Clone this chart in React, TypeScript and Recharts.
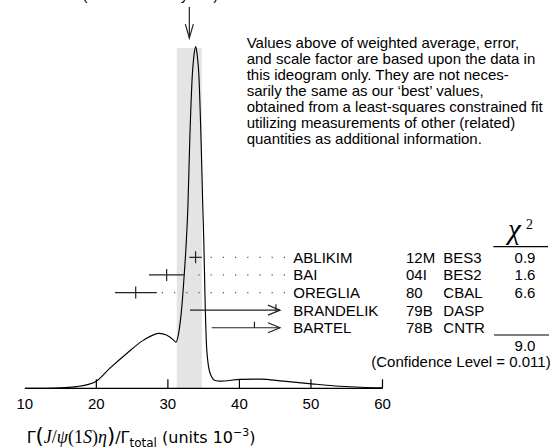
import React from 'react';
import {
  ComposedChart,
  Line,
  Scatter,
  XAxis,
  YAxis,
  ReferenceArea,
  ReferenceLine,
} from 'recharts';

const W = 556;
const H = 448;
const SANS = '"Liberation Sans", Arial, Helvetica, sans-serif';
const SERIF = '"Liberation Serif", "DejaVu Serif", serif';

// ideogram curve (x in units 1e-3, height relative to peak = 100)
const curveX = [10, 12, 14, 15, 17.3, 20, 21.9, 24.25, 26.6, 28.8, 29.8, 30.8, 31.1, 31.5, 31.9, 32.2, 32.55, 32.8, 33.06, 33.43, 33.65, 33.9, 34.1, 34.32, 34.64, 34.88, 35.02, 35.2, 35.44, 35.9, 36.6, 37.3, 40.1, 42.9, 46.15, 50.1, 54.1, 57, 60];
const curveH = [0, 0, 0.05, 0.15, 0.5, 2.1, 5.9, 10.2, 14.1, 16.1, 15.6, 14.1, 13.5, 16.1, 22.8, 30.7, 42, 53.2, 72.6, 92.2, 97.5, 100, 97.5, 92.2, 72.6, 53.2, 43.3, 25.8, 11.1, 4.4, 2.3, 2.1, 2.6, 2.7, 2.1, 1.3, 0.6, 0.3, 0.15];

// measurements
const authors = ['ABLIKIM', 'BAI', 'OREGLIA', 'BRANDELIK', 'BARTEL'];
const docIds = ['12M', '04I', '80', '79B', '78B'];
const techs = ['BES3', 'BES2', 'CBAL', 'DASP', 'CNTR'];
const chi2 = ['0.9', '1.6', '6.6', '', ''];
const centers = [33.87, 29.83, 25.5, 45.1, 42.1];
const errLo = [33.0, 27.36, 22.6, 33.09, 36.13];
const errHi = [34.73, 32.3, 28.44, 45.67, 45.67];
const hasArrow = [false, false, false, true, true];

const avg = 33.0;
const bandLo = 31.24;
const bandHi = 34.74;
const chi2Sum = '9.0';
const confLevel = '0.011';
const xTicks = [10, 20, 30, 40, 50, 60];

const noteLines = [
  'Values above of weighted average, error,',
  'and scale factor are based upon the data in',
  'this ideogram only.  They are not neces-',
  'sarily the same as our \u2018best\u2019 values,',
  'obtained from a least-squares constrained fit',
  'utilizing measurements of other (related)',
  'quantities as additional information.',
];

const curve = curveX.map((x, i) => ({ x, h: curveH[i] }));
const points = centers.map((x, i) => ({ x, row: i, half: hasArrow[i] }));

const leaderEnd = 46.37;
const rowTop = 257.3;
const rowStep = 17.6;
const rowY = (i: number) => rowTop + rowStep * i;

const XTick = (p: any) => {
  const { x, y, payload } = p;
  return (
    <g>
      {payload.value !== 10 && (
        <line x1={x} x2={x} y1={y} y2={y - 9} stroke="#000" strokeWidth={1.2} />
      )}
      <text x={x} y={y + 20.3} textAnchor="middle" fontFamily={SANS} fontSize={15} fill="#000">
        {payload.value}
      </text>
    </g>
  );
};

const makeArrow = (L: number, S: number) => (p: any) => {
  const { x1, y1, x2, y2 } = p;
  const dx = x2 - x1;
  const dy = y2 - y1;
  const len = Math.hypot(dx, dy) || 1;
  const ux = dx / len;
  const uy = dy / len;
  const bx = x2 - ux * L;
  const by = y2 - uy * L;
  return (
    <g>
      <line x1={x1} y1={y1} x2={x2} y2={y2} stroke="#222" strokeWidth={1.2} />
      <polyline
        points={`${bx - uy * S},${by + ux * S} ${x2},${y2} ${bx + uy * S},${by - ux * S}`}
        fill="none"
        stroke="#222"
        strokeWidth={1.2}
      />
    </g>
  );
};

const rowArrow = makeArrow(12, 5);
const topArrow = makeArrow(14, 4);

const CenterTick = (p: any) => {
  const { cx, cy, payload } = p;
  return (
    <line x1={cx} x2={cx} y1={cy - 6} y2={payload.half ? cy : cy + 6} stroke="#222" strokeWidth={1.2} />
  );
};

export default function App() {
  return (
    <div style={{ position: 'absolute', left: 0, top: 0, width: W, height: H, background: '#fff' }}>
      <ComposedChart
        width={W}
        height={H}
        margin={{ top: 32, right: 173.5, bottom: 29.7, left: 24.8 }}
      >
        <XAxis
          type="number"
          dataKey="x"
          domain={[10, 60]}
          ticks={xTicks}
          interval={0}
          allowDataOverflow
          height={30}
          tickSize={0}
          tickMargin={0}
          tickLine={false}
          axisLine={{ stroke: '#000', strokeWidth: 1.2 }}
          tick={XTick}
        />
        <YAxis
          yAxisId="d"
          type="number"
          dataKey="h"
          domain={[0, 104.3]}
          allowDataOverflow
          width={0}
          tick={false}
          tickLine={false}
          axisLine={{ stroke: '#000', strokeWidth: 1.2 }}
        />
        <YAxis
          yAxisId="rows"
          type="number"
          dataKey="row"
          domain={[-12.8, 7.44]}
          reversed
          hide
          allowDataOverflow
        />
        <ReferenceArea
          yAxisId="d"
          x1={bandLo}
          x2={bandHi}
          y1={0}
          y2={99.6}
          fill="#e4e4e4"
          fillOpacity={1}
          stroke="none"
        />
        <Line
          yAxisId="d"
          data={curve}
          dataKey="h"
          type="monotone"
          stroke="#000"
          strokeWidth={1.15}
          dot={false}
          activeDot={false}
          isAnimationActive={false}
        />
        <ReferenceLine
          yAxisId="d"
          segment={[{ x: avg, y: 111.6 }, { x: avg, y: 102.5 }]}
          ifOverflow="visible"
          shape={topArrow}
        />
        {authors.map((a, i) =>
          hasArrow[i] ? (
            <ReferenceLine
              key={'e' + a}
              yAxisId="rows"
              segment={[{ x: errLo[i], y: i }, { x: errHi[i], y: i }]}
              shape={rowArrow}
            />
          ) : (
            <ReferenceLine
              key={'e' + a}
              yAxisId="rows"
              segment={[{ x: errLo[i], y: i }, { x: errHi[i], y: i }]}
              stroke="#222"
              strokeWidth={1.2}
            />
          )
        )}
        {authors.map((a, i) =>
          hasArrow[i] ? null : (
            <ReferenceLine
              key={'l' + a}
              yAxisId="rows"
              segment={[{ x: leaderEnd, y: i }, { x: errHi[i] + 0.6, y: i }]}
              stroke="#555"
              strokeWidth={1.2}
              strokeDasharray="1.2 11"
            />
          )
        )}
        <Scatter
          yAxisId="rows"
          data={points}
          dataKey="row"
          shape={CenterTick}
          isAnimationActive={false}
        />
      </ComposedChart>
      <svg
        width={W}
        height={H}
        style={{ position: 'absolute', left: 0, top: 0, pointerEvents: 'none' }}
        fontFamily={SANS}
        fill="#000"
      >
        <text x={20} y={0} fontSize={15}>
          {`${avg.toFixed(1)}\u00b11.7 (Error scaled by 2.1)`}
        </text>
        {noteLines.map((t, i) => (
          <text key={t} x={246.7} y={47.5 + 16 * i} fontSize={15}>
            {t}
          </text>
        ))}
        {authors.map((a, i) => (
          <g key={a} fontSize={15}>
            <text x={293.3} y={rowY(i) + 5.4}>{a}</text>
            <text x={406} y={rowY(i) + 5.4}>{docIds[i]}</text>
            <text x={443.3} y={rowY(i) + 5.4}>{techs[i]}</text>
            <text x={525} y={rowY(i) + 5.4} textAnchor="middle">{chi2[i]}</text>
          </g>
        ))}
        <text x={508} y={239} fontFamily={SERIF} fontStyle="italic" fontSize={29}>
          χ
        </text>
        <text x={526} y={229} fontFamily={SERIF} fontSize={14}>
          2
        </text>
        <line x1={493.3} x2={548} y1={246.7} y2={246.7} stroke="#000" strokeWidth={1.2} />
        <line x1={494} x2={549} y1={335} y2={335} stroke="#000" strokeWidth={1.2} />
        <text x={525} y={351.3} fontSize={15} textAnchor="middle">
          {chi2Sum}
        </text>
        <text x={550.7} y={367} fontSize={15} textAnchor="end">
          {`(Confidence Level = ${confLevel})`}
        </text>
        <text x={26.7} y={443} fontSize={16} fontFamily='"DejaVu Sans", sans-serif'>
          <tspan>Γ</tspan>
          <tspan fontSize={21}>(</tspan>
          <tspan fontFamily={SERIF} fontStyle="italic" fontSize={18}>J</tspan>
          <tspan fontFamily={SERIF} fontSize={18}>/</tspan>
          <tspan fontFamily={SERIF} fontStyle="italic" fontSize={18}>ψ</tspan>
          <tspan fontFamily={SERIF} fontSize={18}>(1</tspan>
          <tspan fontFamily={SERIF} fontStyle="italic" fontSize={18}>S</tspan>
          <tspan fontFamily={SERIF} fontSize={18}>)</tspan>
          <tspan fontFamily={SERIF} fontStyle="italic" fontSize={18}>η</tspan>
          <tspan fontSize={21}>)</tspan>
          <tspan>/Γ</tspan>
          <tspan fontSize={12} dy={4}>total</tspan>
          <tspan dy={-4}> (units 10</tspan>
          <tspan fontSize={11} dy={-7}>−3</tspan>
          <tspan dy={7}>)</tspan>
        </text>
      </svg>
    </div>
  );
}
